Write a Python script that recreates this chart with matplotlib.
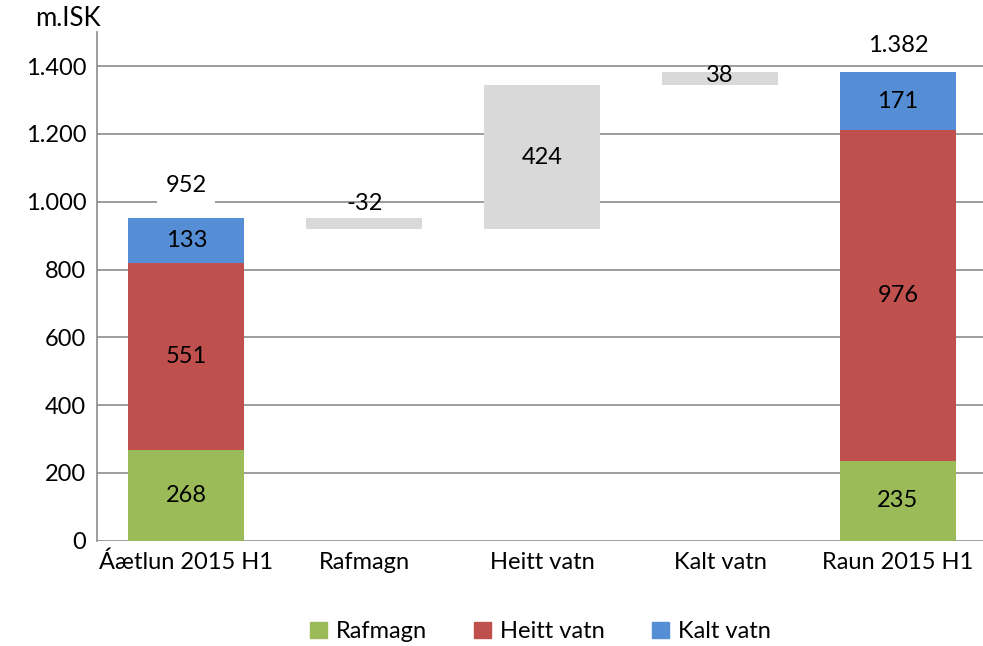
import matplotlib.pyplot as plt
from matplotlib.patches import Patch

plt.rcParams['font.family'] = ['Lato', 'DejaVu Sans']

categories = ['Áætlun 2015 H1', 'Rafmagn', 'Heitt vatn', 'Kalt vatn', 'Raun 2015 H1']
series = ['Rafmagn', 'Heitt vatn', 'Kalt vatn']
colors = ['#9BBB59', '#C0504D', '#558ED5']

# stacked totals
plan = [268, 551, 133]
actual = [235, 976, 171]
# changes between plan and actual
changes = [-32, 424, 38]


def fmt(v):
    return '{:,.0f}'.format(v).replace(',', '.')


fig = plt.figure(figsize=(9.83, 6.46), dpi=100)
ax = fig.add_axes([0.099, 0.163, 0.905, 0.787])
width = 0.65
fs = 17

# stacked first and last bars
for xi, vals in [(0, plan), (4, actual)]:
    bottom = 0
    for v, c in zip(vals, colors):
        ax.bar(xi, v, width, bottom=bottom, color=c, zorder=2)
        ax.text(xi, bottom + v / 2, fmt(v), ha='center', va='center', fontsize=fs, zorder=3)
        bottom += v
    ax.text(xi, min(bottom + 95, 1462), fmt(bottom), ha='center', va='center', fontsize=fs, zorder=3,
            bbox=dict(facecolor='white', edgecolor='none', pad=6))

# floating change bars
level = sum(plan)
for i, d in enumerate(changes):
    xi = i + 1
    lo = min(level, level + d)
    ax.bar(xi, abs(d), width, bottom=lo, color='#D9D9D9', zorder=2)
    if abs(d) > 100:
        ax.text(xi, lo + abs(d) / 2, fmt(d), ha='center', va='center', fontsize=fs, zorder=3)
    elif lo + abs(d) > 1300:
        ax.text(xi, lo + abs(d) - 10, fmt(d), ha='center', va='center', fontsize=fs, zorder=3)
    else:
        ax.text(xi, lo + abs(d) + 43, fmt(d), ha='center', va='center', fontsize=fs, zorder=3)
    level += d

ax.set_xlim(-0.5, 4.5)
ax.set_ylim(0, 1500)
ax.set_yticks(range(0, 1401, 200))
ax.set_yticklabels([fmt(v) for v in range(0, 1401, 200)])
ax.set_xticks(range(len(categories)))
ax.set_xticklabels(categories)
ax.tick_params(axis='both', length=0, labelsize=fs, pad=8)
ax.grid(axis='y', color='#8C8C8C', linewidth=1.2, zorder=0)
for s in ['top', 'right', 'bottom']:
    ax.spines[s].set_visible(False)
ax.spines['left'].set_color('#8C8C8C')
ax.spines['left'].set_linewidth(1.2)

fig.text(0.036, 0.972, 'm.ISK', fontsize=18.5, va='center', ha='left')

handles = [Patch(color=c, label=s) for c, s in zip(colors, series)]
fig.legend(handles=handles, loc='center', bbox_to_anchor=(0.55, 0.022), ncol=3, frameon=False,
           fontsize=fs, handlelength=0.7, handleheight=0.7, columnspacing=2.0, handletextpad=0.4)

fig.savefig('out.png', dpi=100)
